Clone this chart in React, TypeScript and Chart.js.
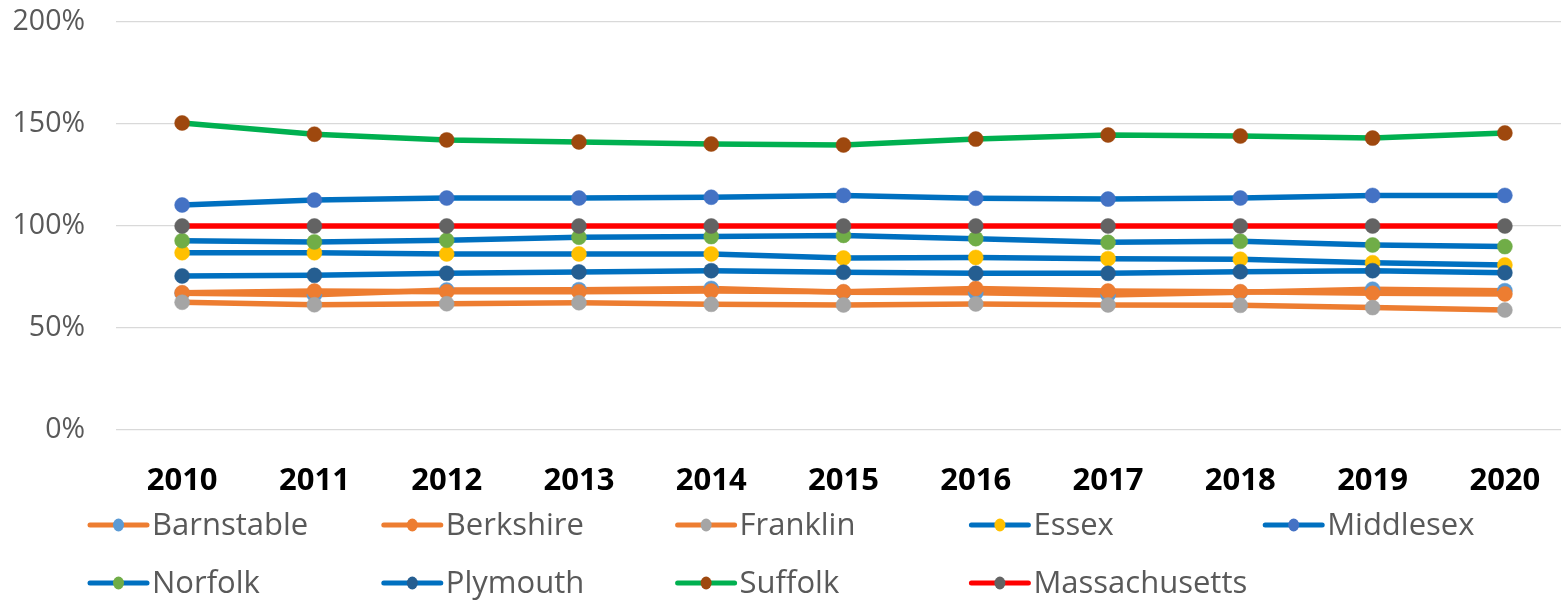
import React, { useEffect, useRef } from "react";
import { Chart, registerables } from "chart.js";

Chart.register(...registerables);

const years = ["2010", "2011", "2012", "2013", "2014", "2015", "2016", "2017", "2018", "2019", "2020"];
const yTicks = [0, 50, 100, 150, 200];

const barnstable = [67.0, 66.3, 68.6, 68.8, 69.4, 67.5, 67.3, 66.2, 67.5, 69.0, 68.3];
const berkshire = [67.3, 68.1, 67.8, 67.8, 68.1, 67.8, 69.4, 68.1, 67.8, 67.0, 66.7];
const franklin = [62.6, 61.4, 61.9, 62.4, 61.6, 61.3, 61.8, 61.3, 61.1, 60.0, 58.8];
const essex = [86.9, 86.9, 86.3, 86.3, 86.3, 84.3, 84.6, 84.0, 83.7, 82.0, 80.9];
const middlesex = [110.3, 112.7, 113.7, 113.7, 114.1, 115.0, 113.6, 113.2, 113.7, 115.0, 115.0];
const norfolk = [92.8, 92.2, 93.0, 94.5, 94.8, 95.4, 93.8, 92.0, 92.5, 90.7, 89.9];
const plymouth = [75.5, 75.8, 76.8, 77.5, 78.1, 77.3, 76.8, 76.8, 77.6, 78.1, 77.1];
const suffolk = [150.5, 145.0, 142.2, 141.2, 140.2, 139.7, 142.6, 144.6, 144.1, 143.1, 145.6];
const massachusetts = [100, 100, 100, 100, 100, 100, 100, 100, 100, 100, 100];

const seriesNames = ["Barnstable", "Berkshire", "Franklin", "Essex", "Middlesex", "Norfolk", "Plymouth", "Suffolk", "Massachusetts"];
const seriesValues = [barnstable, berkshire, franklin, essex, middlesex, norfolk, plymouth, suffolk, massachusetts];
const lineColors = ["#ED7D31", "#ED7D31", "#ED7D31", "#0070C0", "#0070C0", "#0070C0", "#0070C0", "#00B050", "#FF0000"];
const markerColors = ["#5B9BD5", "#ED7D31", "#A5A5A5", "#FFC000", "#4472C4", "#70AD47", "#255E91", "#9E480E", "#636363"];

const FONT = "'Open Sans', 'Noto Sans', sans-serif";

const gridLegend = {
  id: "gridLegend",
  afterDraw(chart: any) {
    const ctx = chart.ctx;
    ctx.save();
    const colW = 293.8;
    const perRow = 5;
    seriesNames.forEach((name, i) => {
      const col = i % perRow;
      const row = Math.floor(i / perRow);
      const x0 = 90 + col * colW;
      const y = 525 + row * 58;
      ctx.strokeStyle = lineColors[i];
      ctx.lineWidth = 5;
      ctx.lineCap = "round";
      ctx.beginPath();
      ctx.moveTo(x0, y);
      ctx.lineTo(x0 + 57, y);
      ctx.stroke();
      ctx.fillStyle = markerColors[i];
      ctx.beginPath();
      ctx.ellipse(x0 + 28.5, y, 5.5, 6.5, 0, 0, Math.PI * 2);
      ctx.fill();
      ctx.fillStyle = "#595959";
      ctx.font = `31px ${FONT}`;
      ctx.textAlign = "left";
      ctx.textBaseline = "middle";
      ctx.fillText(name, x0 + 62, y + 1);
    });
    ctx.restore();
  },
};

export default function App() {
  const ref = useRef<HTMLCanvasElement | null>(null);
  useEffect(() => {
    document.body.style.margin = "0";
    const canvas = ref.current;
    if (!canvas) return;
    const n = seriesNames.length;
    const chart = new Chart(canvas, {
      type: "line",
      data: {
        labels: years,
        datasets: seriesNames.map((name, i) => ({
          label: name,
          data: seriesValues[i],
          borderColor: lineColors[i],
          backgroundColor: markerColors[i],
          borderWidth: 5.5,
          pointRadius: 7.5,
          pointBorderWidth: 0.5,
          pointBorderColor: markerColors[i],
          pointBackgroundColor: markerColors[i],
          tension: 0,
          fill: false,
          order: n - 1 - i,
        })),
      },
      options: {
        responsive: false,
        animation: false,
        layout: { autoPadding: false, padding: { top: 22, right: 0, left: 0, bottom: 100 } },
        plugins: {
          legend: { display: false },
          tooltip: { enabled: false },
        },
        scales: {
          x: {
            type: "category",
            offset: true,
            grid: { display: false, drawTicks: false },
            border: { display: false },
            ticks: {
              color: "#000000",
              font: { family: FONT, size: 31, weight: "bold" },
              padding: 33,
              maxRotation: 0,
            },
            afterFit(scale: any) {
              scale.height = 70;
              scale.paddingLeft = 0;
              scale.paddingRight = 0;
              scale.paddingTop = 0;
              scale.paddingBottom = 0;
            },
          },
          y: {
            min: 0,
            max: 200,
            afterBuildTicks(scale: any) {
              scale.ticks = yTicks.map((v) => ({ value: v }));
            },
            grid: { color: "#D9D9D9", lineWidth: 1.3, drawTicks: false },
            border: { display: false },
            ticks: {
              color: "#595959",
              font: { family: FONT, size: 28.5 },
              padding: 31,
              callback: (v: any) => `${v}%`,
            },
            afterFit(scale: any) {
              scale.width = 116;
              scale.paddingLeft = 0;
              scale.paddingRight = 0;
              scale.paddingTop = 0;
              scale.paddingBottom = 0;
            },
          },
        },
      },
      plugins: [gridLegend],
    });
    return () => chart.destroy();
  }, []);
  return (
    <div style={{ width: 1561, height: 600, overflow: "hidden" }}>
      <canvas ref={ref} width={1571} height={600} style={{ display: "block" }} />
    </div>
  );
}
